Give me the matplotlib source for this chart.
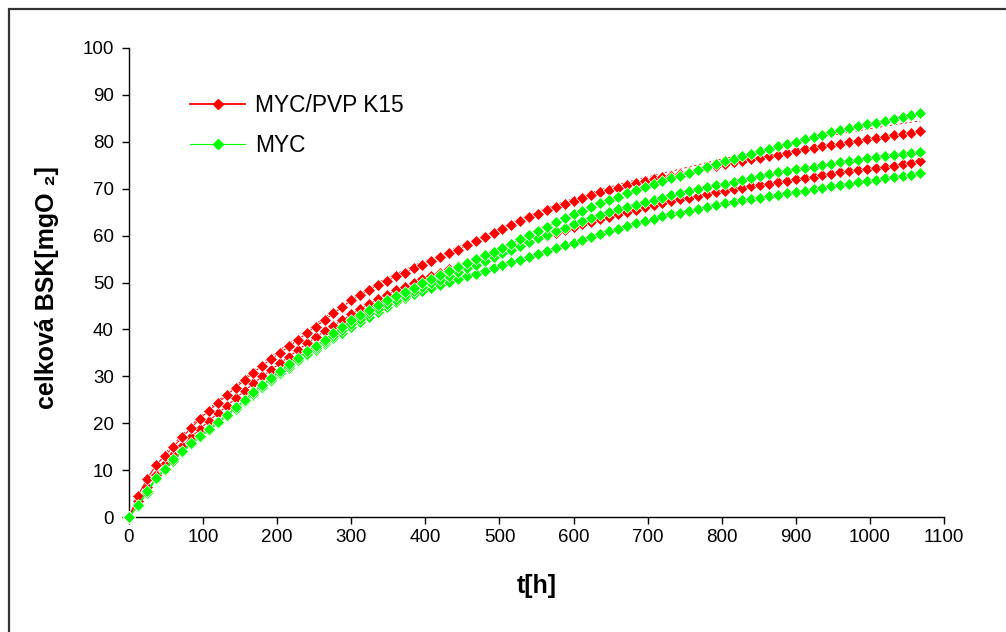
import numpy as np
import matplotlib
matplotlib.use("Agg")
import matplotlib.pyplot as plt
from matplotlib.patches import Rectangle

plt.rcParams['font.family'] = ['Liberation Sans', 'DejaVu Sans']

# ── Data: time axis (h) and cumulative BOD (mgO2) ────────────────────────────
t = np.arange(0, 1069, 12)

myc_pvp_1 = [0, 4.5, 8, 11, 13, 15, 17, 19, 21, 22.7, 24.3, 26, 27.6, 29.2, 30.8, 32.3, 33.7, 35,
             36.4, 37.8, 39.2, 40.6, 42, 43.4, 44.8, 46.2, 47.3, 48.4, 49.4, 50.4, 51.3, 52.1, 53,
             53.8, 54.6, 55.4, 56.2, 57, 57.9, 58.8, 59.7, 60.6, 61.5, 62.3, 63.1, 63.9, 64.7, 65.4,
             66.1, 66.8, 67.4, 68.0, 68.6, 69.2, 69.7, 70.2, 70.7, 71.2, 71.6, 72.0, 72.4, 72.8, 73.2,
             73.6, 74.0, 74.4, 74.8, 75.2, 75.6, 76.0, 76.3, 76.6, 76.9, 77.2, 77.6, 78.0, 78.4, 78.7,
             79.0, 79.3, 79.6, 79.9, 80.2, 80.5, 80.8, 81.1, 81.4, 81.7, 81.9, 82.2]

myc_pvp_2 = [0, 3.5, 6.5, 9, 11.2, 13.2, 15.1, 17, 18.8, 20.5, 22.1, 23.7, 25.3, 26.9, 28.5, 30,
             31.4, 32.8, 34.2, 35.6, 37, 38.3, 39.6, 40.8, 42, 43.2, 44.3, 45.4, 46.5, 47.4, 48.3,
             49.1, 49.9, 50.7, 51.4, 52.1, 52.8, 53.5, 54.1, 54.7, 55.4, 56.1, 56.8, 57.5, 58.2, 58.8,
             59.4, 60.0, 60.6, 61.2, 61.8, 62.4, 63.0, 63.5, 64.0, 64.5, 65.0, 65.5, 66.0, 66.5, 66.9,
             67.3, 67.7, 68.1, 68.5, 68.9, 69.3, 69.6, 69.9, 70.2, 70.5, 70.8, 71.1, 71.4, 71.7, 72.0,
             72.3, 72.6, 72.9, 73.2, 73.5, 73.7, 73.9, 74.1, 74.4, 74.7, 74.9, 75.2, 75.5, 75.8]

myc_1 = [0, 2.5, 5.5, 8.3, 10.3, 12.3, 14.1, 15.8, 17.3, 18.8, 20.3, 21.8, 23.4, 25, 26.6, 28.1,
         29.6, 31.1, 32.6, 34, 35.3, 36.5, 37.8, 39.2, 40.6, 41.9, 43.1, 44.2, 45.2, 46.2, 47.1, 48,
         48.9, 49.8, 50.7, 51.6, 52.5, 53.3, 54.2, 55.0, 55.8, 56.6, 57.4, 58.3, 59.2, 60.1, 61.0,
         61.9, 62.8, 63.7, 64.5, 65.3, 66.1, 66.9, 67.6, 68.3, 69.0, 69.7, 70.4, 71.0, 71.6, 72.2,
         72.8, 73.4, 74.0, 74.6, 75.2, 75.8, 76.4, 77.0, 77.5, 78.0, 78.5, 79.0, 79.5, 80.0, 80.5,
         81.0, 81.5, 82.0, 82.5, 82.9, 83.3, 83.7, 84.1, 84.5, 84.9, 85.3, 85.7, 86.1]

myc_2 = [0, 2.3, 5.2, 8, 10, 12, 13.8, 15.5, 17, 18.5, 20, 21.5, 23.1, 24.7, 26.3, 27.8, 29.3,
         30.7, 32.1, 33.5, 34.8, 36.0, 37.3, 38.6, 39.9, 41.2, 42.3, 43.4, 44.4, 45.4, 46.3, 47.2,
         48.1, 49.0, 49.8, 50.6, 51.4, 52.2, 53.0, 53.8, 54.6, 55.4, 56.2, 57.0, 57.8, 58.6, 59.4,
         60.2, 61.0, 61.7, 62.4, 63.1, 63.8, 64.4, 65.0, 65.6, 66.1, 66.6, 67.1, 67.6, 68.1, 68.6,
         69.0, 69.5, 69.9, 70.3, 70.7, 71.1, 71.5, 71.9, 72.3, 72.7, 73.1, 73.5, 73.8, 74.1, 74.4,
         74.7, 75.0, 75.3, 75.6, 75.9, 76.2, 76.5, 76.7, 76.9, 77.2, 77.4, 77.7, 77.9]

myc_3 = [0, 2.3, 5.2, 8, 10, 12, 13.8, 15.5, 17, 18.5, 20, 21.5, 23.0, 24.5, 26.0, 27.5, 29.0,
         30.4, 31.8, 33.2, 34.5, 35.7, 36.9, 38.1, 39.3, 40.5, 41.6, 42.7, 43.8, 44.8, 45.8, 46.7,
         47.5, 48.2, 48.9, 49.5, 50.1, 50.7, 51.3, 51.9, 52.5, 53.1, 53.7, 54.3, 54.9, 55.5, 56.1,
         56.7, 57.3, 57.9, 58.5, 59.1, 59.7, 60.3, 60.9, 61.5, 62.1, 62.6, 63.1, 63.6, 64.1, 64.5,
         64.9, 65.3, 65.7, 66.1, 66.5, 66.9, 67.2, 67.5, 67.8, 68.1, 68.4, 68.7, 69.0, 69.3, 69.6,
         69.9, 70.2, 70.5, 70.8, 71.1, 71.4, 71.6, 71.9, 72.2, 72.5, 72.8, 73.0, 73.3]

# faint third replicate of MYC/PVP K15 (thin dashed trace)
t_faint = [0, 48, 96, 144, 192, 240, 288, 336, 384, 432, 480, 528, 576, 624, 672, 720, 768,
           816, 864, 912, 960, 1008, 1056, 1068]
myc_pvp_3 = [0, 13.5, 21.5, 28, 34.3, 39.8, 45.3, 50, 53.6, 56.8, 60.2, 63.6, 66.6, 69.2, 71.4,
             73.3, 75.1, 76.9, 78.6, 80.2, 81.7, 83.0, 84.2, 84.4]

RED = "#FF0000"
GREEN = "#00FF00"

fig = plt.figure(figsize=(10.06, 6.32), dpi=100)
ax = fig.add_axes([129 / 1006, 115 / 632, 815 / 1006, 469 / 632])

# ── Outer chart frame (only left and top edge visible in the reference) ─────
fig.add_artist(Rectangle((8.5 / 1006, -0.1), 1.2, 1.1 - 8.5 / 632,
                         transform=fig.transFigure, fill=False,
                         edgecolor="#333333", linewidth=1.6, clip_on=False))

ax.plot(t_faint, myc_pvp_3, color=RED, lw=0.6, ls=(0, (3, 3)), zorder=2)

mk = dict(marker="D", markersize=6.5, markeredgecolor="white", markeredgewidth=0.5,
          lw=0.8, clip_on=False, zorder=3)
ax.plot(t, myc_3, color=GREEN, **mk)
ax.plot(t, myc_pvp_2, color=RED, **mk)
ax.plot(t, myc_2, color=GREEN, **mk)
ax.plot(t, myc_pvp_1, color=RED, **mk)
ax.plot(t, myc_1, color=GREEN, **mk)

# legend entries
ax.plot([], [], color=RED, marker="D", markersize=5, lw=1.3, label="MYC/PVP K15")
ax.plot([], [], color=GREEN, marker="D", markersize=5, lw=0.8, label="MYC")
handles, labels = ax.get_legend_handles_labels()
ax.legend(handles[-2:], labels[-2:], loc="upper left", bbox_to_anchor=(0.05, 0.945),
          frameon=False, fontsize=16.4, handlelength=2.4, handletextpad=0.45,
          labelspacing=0.75)

ax.set_xlim(0, 1100)
ax.set_ylim(0, 100)
ax.set_xticks(np.arange(0, 1101, 100))
ax.set_yticks(np.arange(0, 101, 10))
ax.tick_params(axis="both", labelsize=13.5, direction="out", length=5, width=1,
               colors="black")
ax.tick_params(axis="y", pad=6)
for s in ["top", "right"]:
    ax.spines[s].set_visible(False)
for s in ["left", "bottom"]:
    ax.spines[s].set_linewidth(1)

ax.set_xlabel("t[h]", fontsize=18, fontweight="bold", labelpad=20)
ax.set_ylabel("celková BSK[mgO ₂]", fontsize=18, fontweight="bold", labelpad=16)
ax.yaxis.set_label_coords(-0.086, 0.49)

fig.savefig("out.png", dpi=100)
